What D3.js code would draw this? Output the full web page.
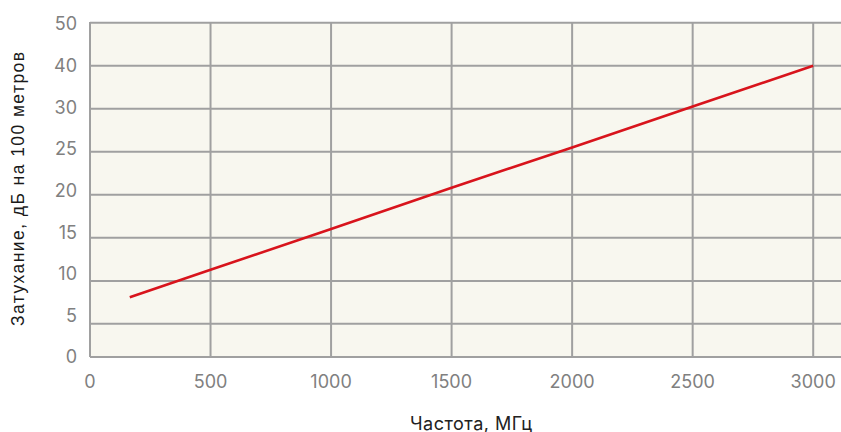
<!DOCTYPE html>
<html><head><meta charset="utf-8">
<script src="https://cdn.jsdelivr.net/npm/d3@7"></script>
<style>html,body{margin:0;padding:0;background:#fff;}svg{display:block;}</style>
</head><body>
<script>
const freq = [165, 500, 1000, 1500, 2000, 2500, 3000];
const atten = [8.1, 11.3, 16.0, 20.8, 25.5, 30.5, 40];
const xTicks = [0, 500, 1000, 1500, 2000, 2500, 3000];
const yTicks = [0, 5, 10, 15, 20, 25, 30, 40, 50];
const xTitle = "Частота, МГц";
const yTitle = "Затухание, дБ на 100 метров";

(function () {
const W = 841, H = 432;
const svg = d3.select("body").append("svg").attr("width", W).attr("height", H);
const pL = 90, pR = 841, pT = 23, pB = 357;

const x = d3.scaleLinear().domain([0, 3000]).range([pL, 813.2]);
const y = d3.scaleLinear().domain(yTicks)
  .range([357, 323.7, 281, 237.7, 194.7, 151.7, 108.7, 65.7, 22.7]);
const yLab = d3.scalePoint().domain(yTicks).range([357, 24]);

svg.append("rect").attr("x", pL).attr("y", pT).attr("width", pR - pL).attr("height", pB - pT)
  .attr("fill", "#f8f7ef");

const grid = svg.append("g").attr("stroke", "#a0a0a0").attr("stroke-width", 2);
grid.selectAll("line.h").data(yTicks).join("line").attr("class", "h")
  .attr("x1", pL).attr("x2", pR).attr("y1", d => y(d)).attr("y2", d => y(d));
grid.selectAll("line.v").data(xTicks).join("line").attr("class", "v")
  .attr("y1", pT - 1).attr("y2", pB).attr("x1", d => x(d)).attr("x2", d => x(d));

const line = d3.line().x((d, i) => x(freq[i])).y(d => y(d));
svg.append("path").attr("d", line(atten)).attr("fill", "none")
  .attr("stroke", "#d8141c").attr("stroke-width", 2.6).attr("stroke-linecap", "butt");

const tf = "Inter, 'Noto Sans', sans-serif";
svg.append("g").selectAll("text").data(yTicks).join("text")
  .attr("x", 77).attr("y", d => yLab(d)).attr("dy", "0.36em").attr("text-anchor", "end")
  .attr("font-family", tf).attr("font-size", 18).attr("fill", "#808080").text(d => d);
svg.append("g").selectAll("text").data(xTicks).join("text")
  .attr("x", d => x(d)).attr("y", 382).attr("dy", "0.36em").attr("text-anchor", "middle")
  .attr("font-family", tf).attr("font-size", 18).attr("fill", "#808080").text(d => d);

svg.append("text").attr("x", 471).attr("y", 429.5).attr("text-anchor", "middle")
  .attr("font-family", tf).attr("font-size", 18).attr("fill", "#222")
  .attr("textLength", 122).attr("lengthAdjust", "spacing").text(xTitle);
svg.append("text").attr("transform", "translate(18,189) rotate(-90)").attr("dy", "0.36em")
  .attr("text-anchor", "middle").attr("font-family", "'Liberation Sans', Arial, sans-serif")
  .attr("font-size", 17.5).attr("fill", "#1a1a1a")
  .attr("textLength", 274).attr("lengthAdjust", "spacing").text(yTitle);
})();
</script>
</body></html>
